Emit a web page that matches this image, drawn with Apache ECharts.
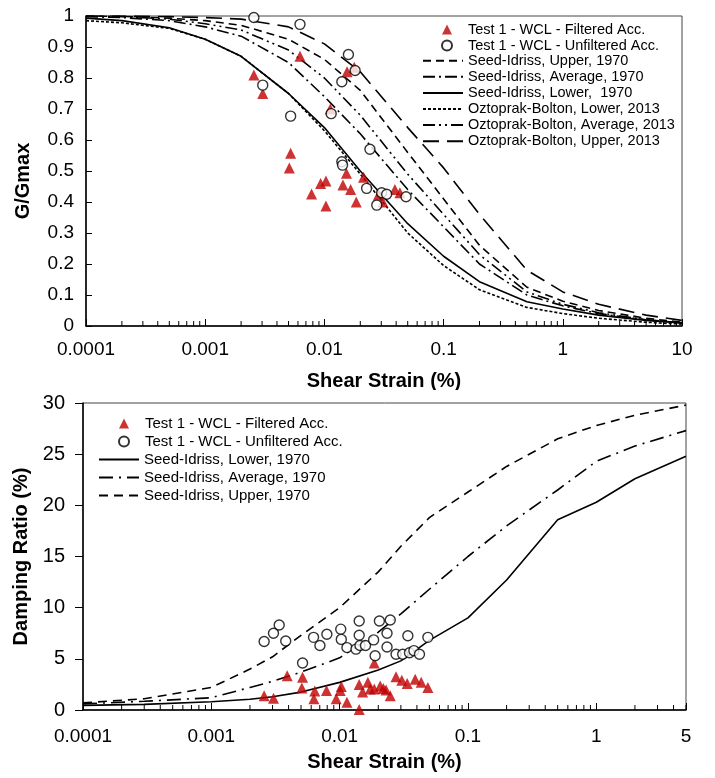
<!DOCTYPE html>
<html>
<head>
<meta charset="utf-8">
<script src="https://cdn.jsdelivr.net/npm/echarts@6/dist/echarts.min.js"></script>
<style>
html,body{margin:0;padding:0;background:#fff;}
#G{position:absolute;left:0;top:0;width:715px;height:390px;}
#D{position:absolute;left:0;top:390px;width:715px;height:388px;}
</style>
</head>
<body>
<div id="G"></div>
<div id="D"></div>
<script>
var FONT = 'Liberation Sans, Arial, sans-serif';

// ---- G/Gmax data ----
var filteredG = [[0.00256,0.81],[0.00304,0.75],[0.00624,0.87],[0.00521,0.557],[0.00508,0.51],[0.0078,0.426],
  [0.0093,0.46],[0.0103,0.468],[0.0103,0.387],[0.0112,0.70],[0.0155,0.82],[0.0178,0.835],[0.0153,0.493],
  [0.0143,0.455],[0.0166,0.44],[0.0185,0.40],[0.0213,0.48],[0.0283,0.422],[0.031,0.40],[0.039,0.44],[0.043,0.43]];
var unfilteredG = [[0.00256,0.995],[0.00624,0.973],[0.00304,0.777],[0.00521,0.677],[0.0114,0.685],[0.0159,0.876],
  [0.0181,0.824],[0.014,0.788],[0.014,0.53],[0.0142,0.519],[0.0241,0.57],[0.0226,0.444],[0.0302,0.43],
  [0.0333,0.425],[0.0275,0.39],[0.0484,0.417]];

var strainG   = [0.0001,0.0002,0.0005,0.001,0.002,0.005,0.01,0.02,0.05,0.1,0.2,0.5,1,2,5,10];
var siUpperG  = [1.0,0.999,0.993,0.985,0.97,0.925,0.86,0.76,0.56,0.41,0.26,0.125,0.08,0.05,0.025,0.012];
var siAvgG    = [0.998,0.995,0.985,0.965,0.935,0.85,0.74,0.62,0.44,0.32,0.2,0.1,0.065,0.04,0.02,0.01];
var siLowerG  = [0.993,0.985,0.962,0.925,0.87,0.75,0.64,0.5,0.33,0.225,0.143,0.078,0.055,0.035,0.018,0.01];
var obLowerG  = [0.985,0.978,0.96,0.925,0.87,0.75,0.63,0.49,0.30,0.195,0.117,0.06,0.04,0.025,0.012,0.006];
var obAvgG    = [1.0,0.998,0.99,0.975,0.955,0.89,0.80,0.68,0.49,0.36,0.23,0.11,0.07,0.043,0.02,0.01];
var obUpperG  = [1.0,1.0,0.998,0.995,0.99,0.965,0.91,0.82,0.64,0.51,0.36,0.18,0.11,0.07,0.035,0.018];

// ---- damping data ----
var filteredD = [[0.00258,1.4],[0.00305,1.15],[0.0039,3.35],[0.00514,3.2],[0.00507,2.15],[0.0064,1.85],[0.0063,1.1],
  [0.0079,1.9],[0.0101,1.9],[0.0103,2.3],[0.0094,1.1],[0.0114,0.75],[0.0142,0.05],[0.0142,2.5],[0.0151,1.75],
  [0.0166,2.7],[0.0173,2.05],[0.0186,2.05],[0.0207,2.35],[0.0219,2.1],[0.023,1.95],[0.0248,1.4],[0.0186,4.6],
  [0.0275,3.25],[0.0305,2.9],[0.0336,2.6],[0.0388,3.0],[0.0432,2.7],[0.0487,2.2]];
var unfilteredD = [[0.00258,6.7],[0.00305,7.5],[0.00338,8.3],[0.0038,6.75],[0.00514,4.6],[0.00626,7.1],[0.00702,6.3],
  [0.00795,7.4],[0.0102,7.9],[0.0103,6.9],[0.0114,6.1],[0.0134,5.95],[0.0142,8.7],[0.0142,7.3],[0.0144,6.3],
  [0.0159,6.3],[0.0184,6.85],[0.0189,5.3],[0.0204,8.7],[0.0234,7.5],[0.0234,6.15],[0.0248,8.8],[0.0275,5.45],
  [0.031,5.45],[0.035,5.6],[0.0379,5.8],[0.0419,5.45],[0.034,7.25],[0.0487,7.1]];

var strainD  = [0.0001,0.0003,0.001,0.002,0.003,0.005,0.01,0.02,0.03,0.05,0.1,0.2,0.5,1,2,5];
var siLowerD = [0.45,0.55,0.8,1.05,1.3,1.75,2.7,3.9,4.8,6.8,9.0,12.7,18.6,20.3,22.6,24.8];
var siAvgD   = [0.6,0.85,1.2,2.2,2.8,3.7,5.1,7.6,9.4,11.8,15.0,18.0,21.5,24.3,25.8,27.3];
var siUpperD = [0.7,1.1,2.2,4.0,5.2,7.3,10.0,13.5,16.0,18.8,21.3,23.8,26.5,27.8,28.8,29.8];

var FILT = 'Test 1 - WCL - Filtered Acc.';
var UNFILT = 'Test 1 - WCL - Unfiltered Acc.';

function pairs(xs, ys) { return xs.map(function (x, i) { return [x, ys[i]]; }); }

function logLabel(v) { return String(+Number(v).toPrecision(6)); }

var RED = '#c00000';
var triStyle = { color: RED };
var circStyle = { color: '#fff', borderColor: '#000', borderWidth: 1.4 };

function curve(name, xs, ys, dash) {
  return {
    name: name, type: 'line', data: pairs(xs, ys), symbol: 'none', z: 1,
    itemStyle: { color: '#000', opacity: 0 },
    lineStyle: { color: '#000', width: 1.6, type: dash, opacity: 1 }
  };
}

function dots(name, shape, size, style, data, z) {
  return { name: name, type: 'scatter', symbol: shape, symbolSize: size,
    itemStyle: style, data: data, z: z };
}

// legend block: marker legend (small icon) and line legend (40px icon)
function legendBlock(left, top, fs, rowH, markerCx, textX, lineNames) {
  var gap = rowH - fs;
  var txt = { fontFamily: FONT, fontSize: fs, color: '#000', lineHeight: fs };
  return [{
    orient: 'vertical', left: markerCx - 5 - 5, top: top, itemWidth: 10, itemHeight: 10, itemGap: gap,
    textStyle: Object.assign({ padding: [0, 0, 0, textX - (markerCx + 5) - 5] }, txt),
    data: [FILT, UNFILT]
  }, {
    orient: 'vertical', left: left, top: top + 2 * rowH, itemWidth: 40, itemHeight: 10, itemGap: gap,
    textStyle: txt, data: lineNames
  }];
}

function xAxisOpt(max, gap, labMargin, tickLen) {
  return {
    type: 'log', logBase: 10, min: 0.0001, max: max,
    name: 'Shear Strain (%)', nameLocation: 'middle', nameGap: gap,
    nameTextStyle: { fontFamily: FONT, fontSize: 20, fontWeight: 'bold', color: '#000' },
    axisLine: { lineStyle: { color: '#000', width: 1.5 } },
    axisTick: { inside: true, length: tickLen, lineStyle: { color: '#000' } },
    axisLabel: { fontFamily: FONT, fontSize: 19, color: '#000', margin: labMargin, formatter: logLabel },
    splitLine: { show: false }
  };
}

// minor ticks of the log axis, placed through the axis scale
function minorTicks(chart, hi, len) {
  var y0 = chart.convertToPixel({ yAxisIndex: 0 }, 0);
  var els = [];
  for (var e = -4; e <= 1; e++) {
    for (var m = 2; m <= 9; m++) {
      var v = m * Math.pow(10, e);
      if (v > hi * 1.0001) continue;
      var px = chart.convertToPixel({ xAxisIndex: 0 }, v);
      els.push({ type: 'line', silent: true, shape: { x1: px, y1: y0, x2: px, y2: y0 - len },
        style: { stroke: '#000', lineWidth: 1 } });
    }
  }
  chart.setOption({ graphic: els });
}

var Gchart = echarts.init(document.getElementById('G'));
var Dchart = echarts.init(document.getElementById('D'));

var Goption = {
  animation: false,
  grid: { left: 86, right: 33, top: 16, bottom: 64, show: true, borderColor: '#444', borderWidth: 1,
    outerBoundsMode: 'none', containLabel: false },
  legend: legendBlock(417, 17, 14.5, 15.6, 446, 467, ['Seed-Idriss, Upper, 1970',
    'Seed-Idriss, Average, 1970', 'Seed-Idriss, Lower,  1970', 'Oztoprak-Bolton, Lower, 2013',
    'Oztoprak-Bolton, Average, 2013', 'Oztoprak-Bolton, Upper, 2013']),
  xAxis: xAxisOpt(10, 45, 14, 7),
  yAxis: {
    type: 'value', min: 0, max: 1, interval: 0.1,
    name: 'G/Gmax', nameLocation: 'middle', nameGap: 53,
    nameTextStyle: { fontFamily: FONT, fontSize: 20, fontWeight: 'bold', color: '#000', padding: [0, 0, 0, -20] },
    axisLine: { lineStyle: { color: '#000', width: 1.5 } },
    axisTick: { inside: true, length: 6, lineStyle: { color: '#000' } },
    axisLabel: { fontFamily: FONT, fontSize: 19, color: '#000', margin: 12,
      formatter: function (v) { return String(Math.round(v * 10) / 10); } },
    splitLine: { show: false }
  },
  series: [
    curve('Seed-Idriss, Upper, 1970', strainG, siUpperG, [8, 5]),
    curve('Seed-Idriss, Average, 1970', strainG, siAvgG, [12, 4, 2, 4]),
    curve('Seed-Idriss, Lower,  1970', strainG, siLowerG, 'solid'),
    curve('Oztoprak-Bolton, Lower, 2013', strainG, obLowerG, [3, 2]),
    curve('Oztoprak-Bolton, Average, 2013', strainG, obAvgG, [12, 4, 2, 4, 2, 4]),
    curve('Oztoprak-Bolton, Upper, 2013', strainG, obUpperG, [16, 8]),
    dots(FILT, 'triangle', 11, triStyle, filteredG, 3),
    dots(UNFILT, 'circle', 10, circStyle, unfilteredG, 4)
  ]
};

var Doption = {
  animation: false,
  grid: { left: 83, right: 29, top: 13, bottom: 68, show: true, borderColor: '#444', borderWidth: 1,
    outerBoundsMode: 'none', containLabel: false },
  legend: legendBlock(93, 21, 15, 18, 123, 144, ['Seed-Idriss, Lower, 1970',
    'Seed-Idriss, Average, 1970', 'Seed-Idriss, Upper, 1970']),
  xAxis: xAxisOpt(5, 42, 17, 7),
  yAxis: {
    type: 'value', min: 0, max: 30, interval: 5,
    name: 'Damping Ratio (%)', nameLocation: 'middle', nameGap: 44,
    nameTextStyle: { fontFamily: FONT, fontSize: 20, fontWeight: 'bold', color: '#000' },
    axisLine: { lineStyle: { color: '#000', width: 1.5 } },
    axisTick: { inside: false, length: 8, lineStyle: { color: '#000' } },
    axisLabel: { fontFamily: FONT, fontSize: 20, color: '#000', margin: 18 },
    splitLine: { show: false }
  },
  series: [
    curve('Seed-Idriss, Lower, 1970', strainD, siLowerD, 'solid'),
    curve('Seed-Idriss, Average, 1970', strainD, siAvgD, [14, 6, 2, 6]),
    curve('Seed-Idriss, Upper, 1970', strainD, siUpperD, [9, 6]),
    dots(FILT, 'triangle', 11, triStyle, filteredD, 3),
    dots(UNFILT, 'circle', 10, circStyle, unfilteredD, 4)
  ]
};

Gchart.setOption(Goption);
Dchart.setOption(Doption);
minorTicks(Gchart, 10, 5);
minorTicks(Dchart, 5, 5);
</script>
</body>
</html>
